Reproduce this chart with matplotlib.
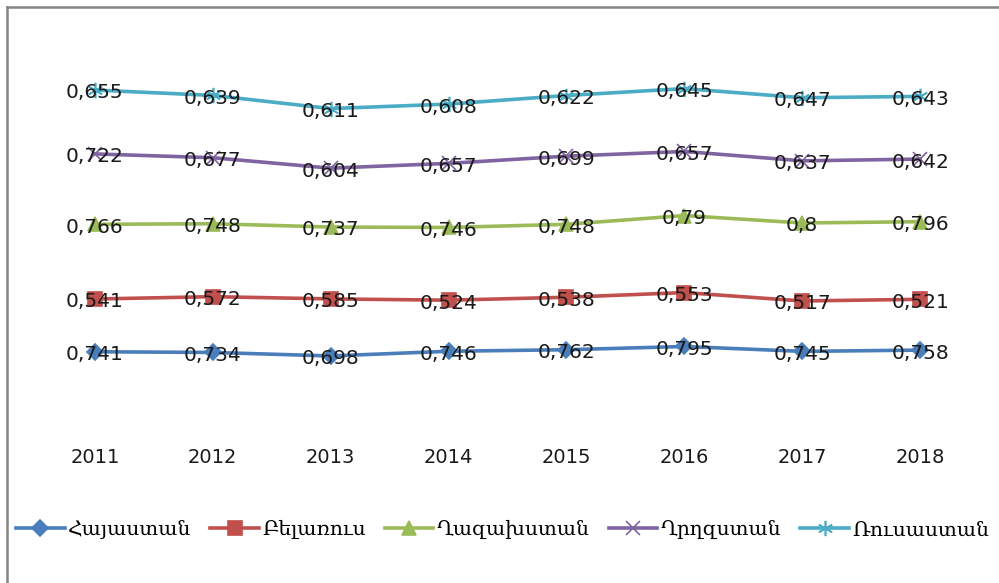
import numpy as np
import matplotlib
matplotlib.use("Agg")
import matplotlib.pyplot as plt
from matplotlib.lines import Line2D

years = ["2011", "2012", "2013", "2014", "2015", "2016", "2017", "2018"]
names = ["Հայաստան", "Բելառուս", "Ղազախստան", "Ղրղզստան", "Ռուսաստան"]
armenia = [0.741, 0.734, 0.698, 0.746, 0.762, 0.795, 0.745, 0.758]
belarus = [0.541, 0.572, 0.585, 0.524, 0.538, 0.553, 0.517, 0.521]
kazakhstan = [0.766, 0.748, 0.737, 0.746, 0.748, 0.79, 0.8, 0.796]
kyrgyzstan = [0.722, 0.677, 0.604, 0.657, 0.699, 0.657, 0.637, 0.642]
russia = [0.655, 0.639, 0.611, 0.608, 0.622, 0.645, 0.647, 0.643]

series = [armenia, belarus, kazakhstan, kyrgyzstan, russia]
colors = ["#4A7EBB", "#C0504D", "#9BBB59", "#8064A2", "#4BACC6"]
markers = ["D", "s", "^", "x", (6, 2, 0)]
msizes = [8, 10, 10, 10, 11]

fig = plt.figure(figsize=(9.99, 5.83), dpi=100)
ax = fig.add_axes([0.036, 0.2727, 0.944, 0.669])

x = np.arange(len(years))
stacked = np.cumsum(np.array(series), axis=0)  # Excel "stacked line"

handles = []
for vals, cum, c, m, ms, name in zip(series, stacked, colors, markers, msizes, names):
    ax.plot(x, cum, color=c, lw=2.6, marker=m, markersize=ms,
            markeredgecolor=c, markeredgewidth=1.2, zorder=2)
    for xi, yi, v in zip(x, cum, vals):
        lab = f"{v:g}".replace(".", ",")
        ax.text(xi, yi - 0.03, lab, ha="center", va="center",
                fontsize=14.5, color="#1a1a1a", zorder=3)
    handles.append(Line2D([], [], color=c, lw=2.6, marker=m, markersize=ms,
                          markeredgecolor=c, markeredgewidth=1.2))

ax.set_xlim(-0.5, len(years) - 0.5)
ax.set_ylim(0, 4)
ax.set_xticks(x)
ax.set_xticklabels(years, fontsize=14, color="#1a1a1a")
ax.set_yticks([])
ax.tick_params(axis="x", length=0, pad=17)
for s in ax.spines.values():
    s.set_visible(False)

fig.legend(handles, names, loc="center", bbox_to_anchor=(0.503, 0.091),
           ncol=5, frameon=False, handlelength=2.4, handletextpad=0.15,
           columnspacing=0.95, prop={"family": "DejaVu Serif", "size": 14.6})

# outer chart border (top and left edges visible)
fig.add_artist(Line2D([7 / 999, 1], [1 - 7 / 583, 1 - 7 / 583],
                      transform=fig.transFigure, color="#858585", lw=1.8))
fig.add_artist(Line2D([7 / 999, 7 / 999], [0, 1 - 7 / 583],
                      transform=fig.transFigure, color="#858585", lw=1.8))

fig.savefig("out.png", dpi=100)
